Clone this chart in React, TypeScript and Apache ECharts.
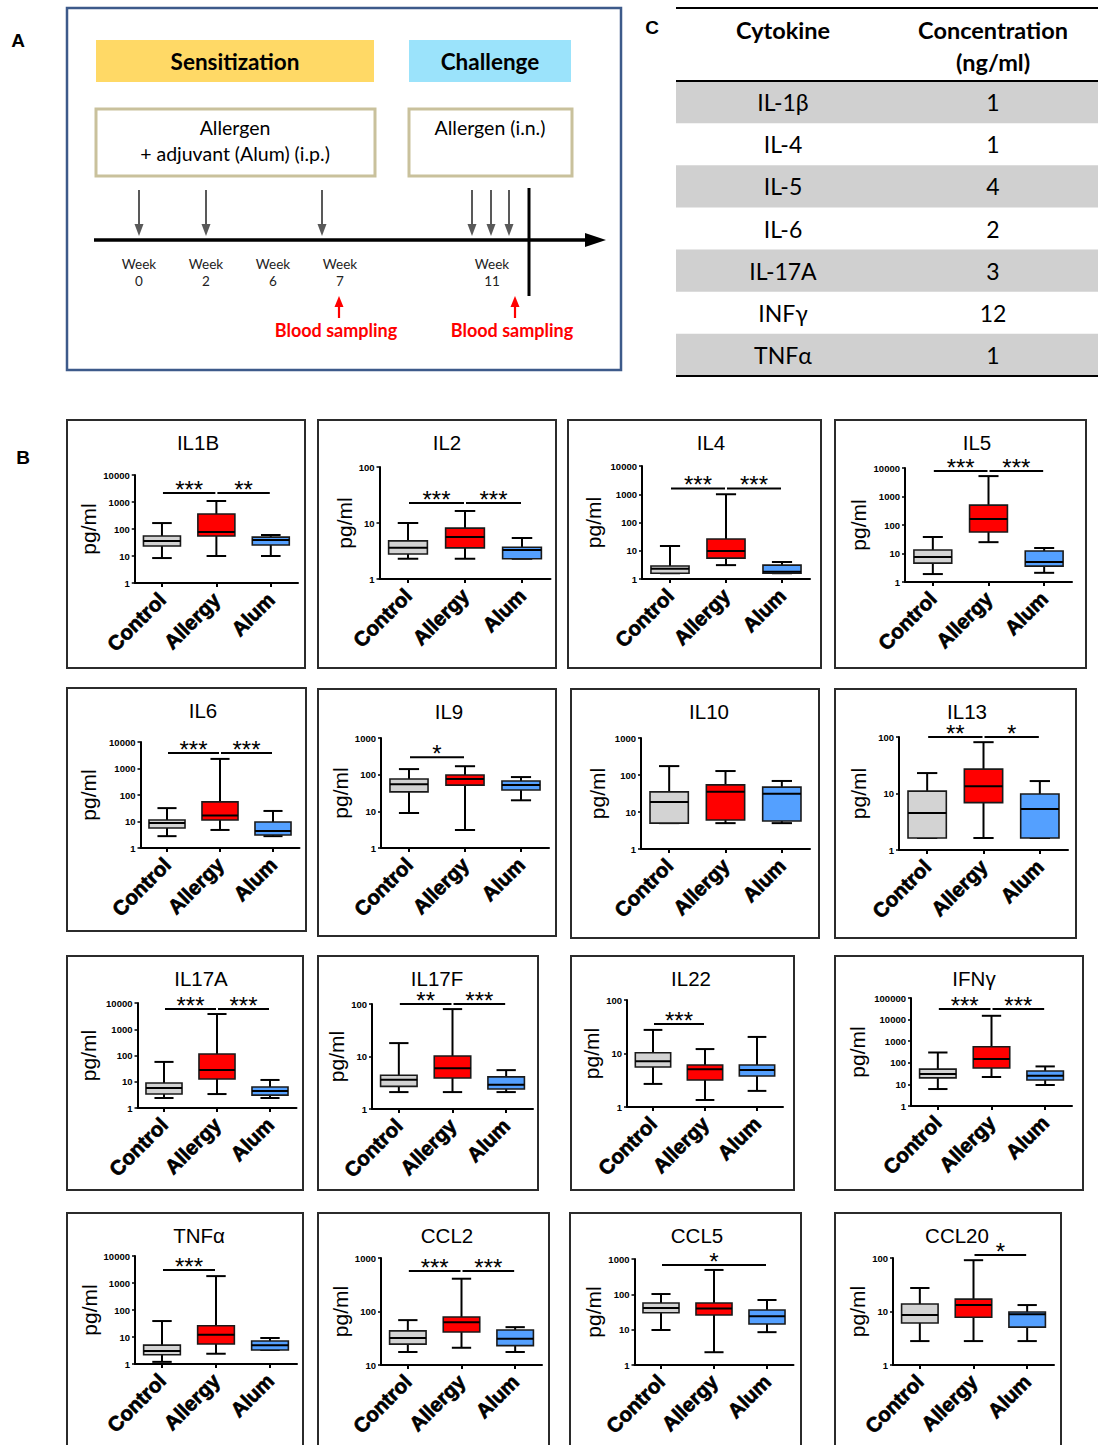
import React, { useEffect, useRef } from 'react';
import * as echarts from 'echarts';

// ---------- Data ----------
const groups = ['Control', 'Allergy', 'Alum'];
const groupColors = ['#d3d3d3', '#ff0000', '#54a0ff'];

// Each box: [min, Q1, median, Q3, max] for Control, Allergy, Alum (pg/ml)
const il1bBoxes = [[8.4, 23.4, 36, 55, 166], [10, 55, 77, 360, 1090], [10, 25.5, 39, 50, 60]];
const il2Boxes = [[2.3, 2.8, 3.6, 4.8, 10], [2.3, 3.6, 5.6, 8.1, 16.4], [2.3, 2.3, 3.3, 3.7, 5.4]];
const il4Boxes = [[1.6, 1.6, 2.3, 2.9, 14.7], [3.1, 5.5, 9.8, 26, 1000], [1.6, 1.6, 1.8, 3.1, 4.0]];
const il5Boxes = [[1.9, 4.6, 7.5, 13.3, 38], [25, 57, 162, 500, 5200], [2.1, 3.6, 5.0, 12.2, 15.6]];
const il6Boxes = [[2.8, 5.7, 8.7, 11.4, 32], [4.8, 11.4, 17, 55, 2300], [2.8, 3.1, 4.4, 9.6, 25]];
const il9Boxes = [[9.0, 34, 55, 76, 142], [3.1, 52, 76, 98, 170], [20, 38, 52, 67, 86]];
const il10Boxes = [[5.0, 5.0, 18.6, 35, 174], [5.0, 6.1, 35, 54, 128], [5.0, 5.7, 31, 47, 69]];
const il13Boxes = [[1.63, 1.63, 4.5, 11, 23], [1.63, 6.9, 13.5, 27, 81], [1.63, 1.63, 5.3, 9.8, 16.6]];
const il17aBoxes = [[2.4, 3.4, 5.8, 9, 57], [3.4, 12.7, 28, 114, 3800], [2.4, 3.1, 4.4, 6.3, 11.7]];
const il17fBoxes = [[2.1, 2.7, 3.6, 4.4, 18], [2.1, 3.9, 6.0, 10.2, 80], [2.1, 2.4, 2.9, 4.1, 5.5]];
const il22Boxes = [[2.7, 5.6, 7.2, 10.3, 27.6], [1.35, 3.2, 5.1, 6.1, 12.1], [2.0, 3.8, 4.9, 6.1, 20.4]];
const ifngBoxes = [[6.1, 20, 30, 51, 300], [22, 57, 150, 550, 15000], [9.4, 16, 25, 42, 68]];
const tnfaBoxes = [[1.2, 2.2, 3.0, 5.0, 39], [2.4, 5.5, 12, 26, 1800], [3.3, 3.3, 5.0, 7.1, 9.2]];
const ccl2Boxes = [[17.5, 24.6, 32, 43.5, 69], [21, 41.5, 63, 79, 410], [17.5, 23, 31, 45, 51]];
const ccl5Boxes = [[9.8, 30, 41, 57, 102], [2.3, 26, 40, 57, 490], [8.5, 14.5, 24, 36, 69]];
const ccl20Boxes = [[2.8, 6.1, 8.6, 13.8, 27.5], [2.8, 7.8, 13.2, 17, 91], [2.8, 5.1, 8.9, 9.8, 13.2]];

// Significance bars: [fromGroup, toGroup, level (pg/ml), label]
const il1bSig = [[0, 1, 2150, '***'], [1, 2, 2150, '**']];
const il2Sig = [[0, 1, 22.8, '***'], [1, 2, 22.8, '***']];
const il4Sig = [[0, 1, 1600, '***'], [1, 2, 1600, '***']];
const il5Sig = [[0, 1, 7900, '***'], [1, 2, 7900, '***']];
const il6Sig = [[0, 1, 3850, '***'], [1, 2, 3850, '***']];
const il9Sig = [[0, 1, 300, '*']];
const il10Sig: any[] = [];
const il13Sig = [[0, 1, 100, '**'], [1, 2, 100, '*']];
const il17aSig = [[0, 1, 5900, '***'], [1, 2, 5900, '***']];
const il17fSig = [[0, 1, 100, '**'], [1, 2, 100, '***']];
const il22Sig = [[0, 1, 35.6, '***']];
const ifngSig = [[0, 1, 31000, '***'], [1, 2, 31000, '***']];
const tnfaSig = [[0, 1, 3000, '***']];
const ccl2Sig = [[0, 1, 570, '***'], [1, 2, 570, '***']];
const ccl5Sig = [[0, 2, 680, '*']];
const ccl20Sig = [[1, 2, 114, '*']];

// Panel C table
const tableHeaders = ['Cytokine', 'Concentration', '(ng/ml)'];
const cytokines = ['IL-1β', 'IL-4', 'IL-5', 'IL-6', 'IL-17A', 'INFγ', 'TNFα'];
const concentrations = ['1', '1', '4', '2', '3', '12', '1'];

// Panel A timeline labels
const weekNumbers = ['0', '2', '6', '7', '11'];

// ---------- Layout (positions only) ----------
type Panel = {
  name: string; boxes: number[][]; sig: any[]; yMin: number; yMax: number;
  frame: number[]; grid: number[]; titleX: number; pgX: number;
};
const panels: Panel[] = [
  { name: 'IL1B', boxes: il1bBoxes, sig: il1bSig, yMin: 1, yMax: 10000, frame: [67, 420, 238, 248], grid: [134.75, 475, 163.25, 108], titleX: 198, pgX: 92 },
  { name: 'IL2', boxes: il2Boxes, sig: il2Sig, yMin: 1, yMax: 100, frame: [318, 420, 238, 248], grid: [379.5, 467, 171, 112], titleX: 447, pgX: 345 },
  { name: 'IL4', boxes: il4Boxes, sig: il4Sig, yMin: 1, yMax: 10000, frame: [568, 420, 253, 248], grid: [642, 466, 168, 113], titleX: 711, pgX: 593 },
  { name: 'IL5', boxes: il5Boxes, sig: il5Sig, yMin: 1, yMax: 10000, frame: [835, 420, 251, 248], grid: [905, 468, 167, 114], titleX: 977, pgX: 858 },
  { name: 'IL6', boxes: il6Boxes, sig: il6Sig, yMin: 1, yMax: 10000, frame: [67, 688, 239, 243], grid: [140.5, 742, 159, 106], titleX: 203, pgX: 88 },
  { name: 'IL9', boxes: il9Boxes, sig: il9Sig, yMin: 1, yMax: 1000, frame: [318, 689, 238, 247], grid: [381, 738, 168, 110], titleX: 449, pgX: 342 },
  { name: 'IL10', boxes: il10Boxes, sig: il10Sig, yMin: 1, yMax: 1000, frame: [571, 689, 248, 249], grid: [641, 738, 169, 111], titleX: 709, pgX: 597 },
  { name: 'IL13', boxes: il13Boxes, sig: il13Sig, yMin: 1, yMax: 100, frame: [835, 689, 241, 249], grid: [899, 737, 169, 113], titleX: 967, pgX: 858 },
  { name: 'IL17A', boxes: il17aBoxes, sig: il17aSig, yMin: 1, yMax: 10000, frame: [67, 956, 236, 234], grid: [137.5, 1003, 159, 105], titleX: 201, pgX: 88 },
  { name: 'IL17F', boxes: il17fBoxes, sig: il17fSig, yMin: 1, yMax: 100, frame: [318, 956, 220, 234], grid: [372, 1004, 161, 105], titleX: 437, pgX: 342 },
  { name: 'IL22', boxes: il22Boxes, sig: il22Sig, yMin: 1, yMax: 100, frame: [571, 956, 223, 234], grid: [627, 1000, 156, 107], titleX: 691, pgX: 594 },
  { name: 'IFNγ', boxes: ifngBoxes, sig: ifngSig, yMin: 1, yMax: 100000, frame: [835, 956, 248, 234], grid: [911, 998, 161, 108], titleX: 974, pgX: 857 },
  { name: 'TNFα', boxes: tnfaBoxes, sig: tnfaSig, yMin: 1, yMax: 10000, frame: [67, 1213, 236, 240], grid: [135, 1256, 162, 108], titleX: 199, pgX: 89 },
  { name: 'CCL2', boxes: ccl2Boxes, sig: ccl2Sig, yMin: 10, yMax: 1000, frame: [318, 1213, 231, 240], grid: [381, 1258, 161, 107], titleX: 447, pgX: 342 },
  { name: 'CCL5', boxes: ccl5Boxes, sig: ccl5Sig, yMin: 1, yMax: 1000, frame: [570, 1213, 231, 240], grid: [634.5, 1259, 159, 106], titleX: 697, pgX: 596 },
  { name: 'CCL20', boxes: ccl20Boxes, sig: ccl20Sig, yMin: 1, yMax: 100, frame: [835, 1213, 226, 240], grid: [893, 1258, 161, 107], titleX: 957, pgX: 858 },
];

const SANS = 'Liberation Sans, Arial, sans-serif';
const CAL = 'Lato, "Open Sans", sans-serif';

function buildGraphic(): any[] {
  const g: any[] = [];
  const txt = (text: string, x: number, y: number, size: number, weight: any = 'normal', fill = '#000', family = CAL, align = 'center') => ({
    type: 'text', silent: true,
    style: { text, x, y, fontSize: size, fontWeight: weight, fontFamily: family, fill, align, verticalAlign: 'middle' },
  });
  const line = (x1: number, y1: number, x2: number, y2: number, stroke: string, lw: number) => ({
    type: 'line', silent: true, shape: { x1, y1, x2, y2 }, style: { stroke, lineWidth: lw },
  });
  const poly = (points: number[][], fill: string) => ({ type: 'polygon', silent: true, shape: { points }, style: { fill } });

  // Panel letters
  g.push(txt('A', 18, 40, 19, 'bold', '#000', SANS));
  g.push(txt('B', 23, 457, 19, 'bold', '#000', SANS));
  g.push(txt('C', 652, 27, 19, 'bold', '#000', SANS));

  // ---- Panel A ----
  g.push({ type: 'rect', silent: true, shape: { x: 67, y: 8, width: 554, height: 362 }, style: { fill: '#fff', stroke: '#3d5a8a', lineWidth: 2.5 } });
  g.push({ type: 'rect', silent: true, shape: { x: 96, y: 40, width: 278, height: 42 }, style: { fill: '#ffd966' } });
  g.push({ type: 'rect', silent: true, shape: { x: 409, y: 40, width: 162, height: 42 }, style: { fill: '#9be3fb' } });
  g.push(txt('Sensitization', 235, 61, 22.5, 'bold'));
  g.push(txt('Challenge', 490, 61, 22.5, 'bold'));
  g.push({ type: 'rect', silent: true, shape: { x: 96, y: 109, width: 279, height: 67 }, style: { fill: '#fff', stroke: '#c9c19c', lineWidth: 3 } });
  g.push({ type: 'rect', silent: true, shape: { x: 409, y: 109, width: 163, height: 67 }, style: { fill: '#fff', stroke: '#c9c19c', lineWidth: 3 } });
  g.push(txt('Allergen', 235, 127, 19.5));
  g.push(txt('+ adjuvant (Alum) (i.p.)', 235, 153, 19.5));
  g.push(txt('Allergen (i.n.)', 490, 127, 19.5));
  // timeline
  g.push(line(94, 240, 590, 240, '#000', 3.5));
  g.push(poly([[585, 233], [606, 240], [585, 247]], '#000'));
  [139, 206, 322, 472, 491, 509].forEach((x) => {
    g.push(line(x, 190, x, 226, '#595959', 2));
    g.push(poly([[x - 4.5, 224], [x + 4.5, 224], [x, 236]], '#595959'));
  });
  g.push(line(529, 188, 529, 296, '#000', 3));
  const weekX = [139, 206, 273, 340, 492];
  weekNumbers.forEach((w, i) => {
    g.push(txt('Week', weekX[i], 264, 13.5, 'normal', '#222'));
    g.push(txt(w, weekX[i], 281, 13.5, 'normal', '#222'));
  });
  [339, 515].forEach((x) => {
    g.push(line(x, 318, x, 306, '#ff0000', 2.2));
    g.push(poly([[x - 4.5, 307], [x + 4.5, 307], [x, 296]], '#ff0000'));
  });
  g.push(txt('Blood sampling', 336, 330, 18, 'bold', '#ff0000'));
  g.push(txt('Blood sampling', 512, 330, 18, 'bold', '#ff0000'));

  // ---- Panel C table ----
  const rowH = (376 - 81) / 7;
  cytokines.forEach((c, i) => {
    const yTop = 81 + i * rowH;
    if (i % 2 === 0) {
      g.push({ type: 'rect', silent: true, shape: { x: 676, y: yTop, width: 422, height: rowH }, style: { fill: '#d0d0d0' } });
    }
    g.push(txt(c, 783, yTop + rowH / 2, 23));
    g.push(txt(concentrations[i], 993, yTop + rowH / 2, 23));
  });
  g.push(line(676, 8, 1098, 8, '#000', 2));
  g.push(line(676, 81, 1098, 81, '#000', 2));
  g.push(line(676, 376, 1098, 376, '#000', 2));
  g.push(txt(tableHeaders[0], 783, 30, 23.5, 'bold'));
  g.push(txt(tableHeaders[1], 993, 30, 23.5, 'bold'));
  g.push(txt(tableHeaders[2], 993, 62, 23.5, 'bold'));

  // ---- Panel B frames ----
  panels.forEach((p) => {
    const [x, y, w, h] = p.frame;
    g.push({ type: 'rect', silent: true, z: -1, shape: { x, y, width: w, height: h }, style: { fill: 'none', stroke: '#2b2b2b', lineWidth: 2 } });
  });
  return g;
}

function buildOption(): any {
  const grid: any[] = [];
  const xAxis: any[] = [];
  const yAxis: any[] = [];
  const series: any[] = [];
  const title: any[] = [];

  panels.forEach((p, i) => {
    const [left, top, width, height] = p.grid;
    grid.push({ left, top, width, height, containLabel: false });
    title.push({
      text: p.name, left: p.titleX, top: p.frame[1] + 22, textAlign: 'center', textVerticalAlign: 'middle', padding: 0,
      textStyle: { fontSize: 20.5, fontWeight: 'normal', color: '#000', fontFamily: SANS },
    });
    xAxis.push({
      type: 'category', gridIndex: i, data: groups,
      axisLine: { show: true, lineStyle: { color: '#000', width: 2 } },
      axisTick: { show: true, alignWithLabel: true, length: 4, lineStyle: { color: '#000', width: 2 } },
      axisLabel: {
        rotate: 45, interval: 0, margin: 13, fontSize: 20.5, fontWeight: 'bold', color: '#000', fontFamily: SANS,
        textBorderColor: '#000', textBorderWidth: 0.7,
      },
      splitLine: { show: false },
    });
    yAxis.push({
      type: 'log', logBase: 10, gridIndex: i, min: p.yMin, max: p.yMax,
      name: 'pg/ml', nameLocation: 'middle', nameGap: left - p.pgX - 10.5,
      nameTextStyle: { fontSize: 21, color: '#000', fontFamily: SANS },
      axisLine: { show: true, lineStyle: { color: '#000', width: 2 } },
      axisTick: { show: true, length: 3, lineStyle: { color: '#000', width: 1.5 } },
      axisLabel: { margin: 5, fontSize: 9.5, fontWeight: 'bold', color: '#000', fontFamily: SANS, formatter: (v: number) => String(Math.round(v)) },
      splitLine: { show: false },
    });
    series.push({
      type: 'custom', name: p.name, coordinateSystem: 'cartesian2d', xAxisIndex: i, yAxisIndex: i, clip: false,
      dimensions: ['group', 'min', 'q1', 'median', 'q3', 'max'],
      encode: { x: 0, y: [1, 2, 3, 4, 5] },
      data: p.boxes.map((b, k) => [k, ...b]),
      renderItem: (params: any, api: any) => {
        const k = api.value(0);
        const pMin = api.coord([k, api.value(1)]);
        const pQ1 = api.coord([k, api.value(2)]);
        const pMed = api.coord([k, api.value(3)]);
        const pQ3 = api.coord([k, api.value(4)]);
        const pMax = api.coord([k, api.value(5)]);
        const band = api.size([1, 1], [k, 10])[0];
        const cx = pQ1[0];
        const bw = band * 0.68;
        const cw = band * 0.36;
        const ws = { stroke: '#000', lineWidth: 2 };
        return {
          type: 'group',
          children: [
            { type: 'line', shape: { x1: cx, y1: pMax[1], x2: cx, y2: pQ3[1] }, style: ws },
            { type: 'line', shape: { x1: cx, y1: pQ1[1], x2: cx, y2: pMin[1] }, style: ws },
            { type: 'line', shape: { x1: cx - cw / 2, y1: pMax[1], x2: cx + cw / 2, y2: pMax[1] }, style: ws },
            { type: 'line', shape: { x1: cx - cw / 2, y1: pMin[1], x2: cx + cw / 2, y2: pMin[1] }, style: ws },
            { type: 'rect', shape: { x: cx - bw / 2, y: pQ3[1], width: bw, height: Math.max(pQ1[1] - pQ3[1], 0.5) }, style: { fill: groupColors[k], stroke: '#1a1a1a', lineWidth: 1.6 } },
            { type: 'line', shape: { x1: cx - bw / 2, y1: pMed[1], x2: cx + bw / 2, y2: pMed[1] }, style: { stroke: '#000', lineWidth: 2 } },
          ],
        };
      },
    });
    if (p.sig.length) {
      const sig = p.sig;
      series.push({
        type: 'custom', name: p.name + ' significance', coordinateSystem: 'cartesian2d', xAxisIndex: i, yAxisIndex: i, clip: false,
        dimensions: ['from', 'to', 'level'],
        encode: { x: [0, 1], y: 2 },
        data: sig.map((s: any[]) => [s[0], s[1], s[2]]),
        renderItem: (params: any, api: any) => {
          const lvl = api.value(2);
          const p0 = api.coord([api.value(0), lvl]);
          const p1 = api.coord([api.value(1), lvl]);
          const label = sig[params.dataIndex][3];
          return {
            type: 'group',
            children: [
              { type: 'line', shape: { x1: p0[0] + 1, y1: p0[1], x2: p1[0] - 1, y2: p0[1] }, style: { stroke: '#000', lineWidth: 2 } },
              { type: 'text', style: { text: label, x: (p0[0] + p1[0]) / 2, y: p0[1] - 3.5, align: 'center', verticalAlign: 'middle', fontSize: 24, fontFamily: SANS, fill: '#000' } },
            ],
          };
        },
      });
    }
  });

  return {
    animation: false,
    backgroundColor: '#fff',
    textStyle: { fontFamily: SANS },
    title, grid, xAxis, yAxis, series,
    graphic: { elements: buildGraphic() },
  };
}

export default function App() {
  const ref = useRef<HTMLDivElement>(null);
  useEffect(() => {
    if (!ref.current) return;
    const chart = echarts.init(ref.current, undefined, { renderer: 'svg' });
    chart.setOption(buildOption());
    return () => chart.dispose();
  }, []);
  return <div ref={ref} style={{ position: 'absolute', left: 0, top: 0, width: 1100, height: 1445, background: '#fff' }} />;
}
